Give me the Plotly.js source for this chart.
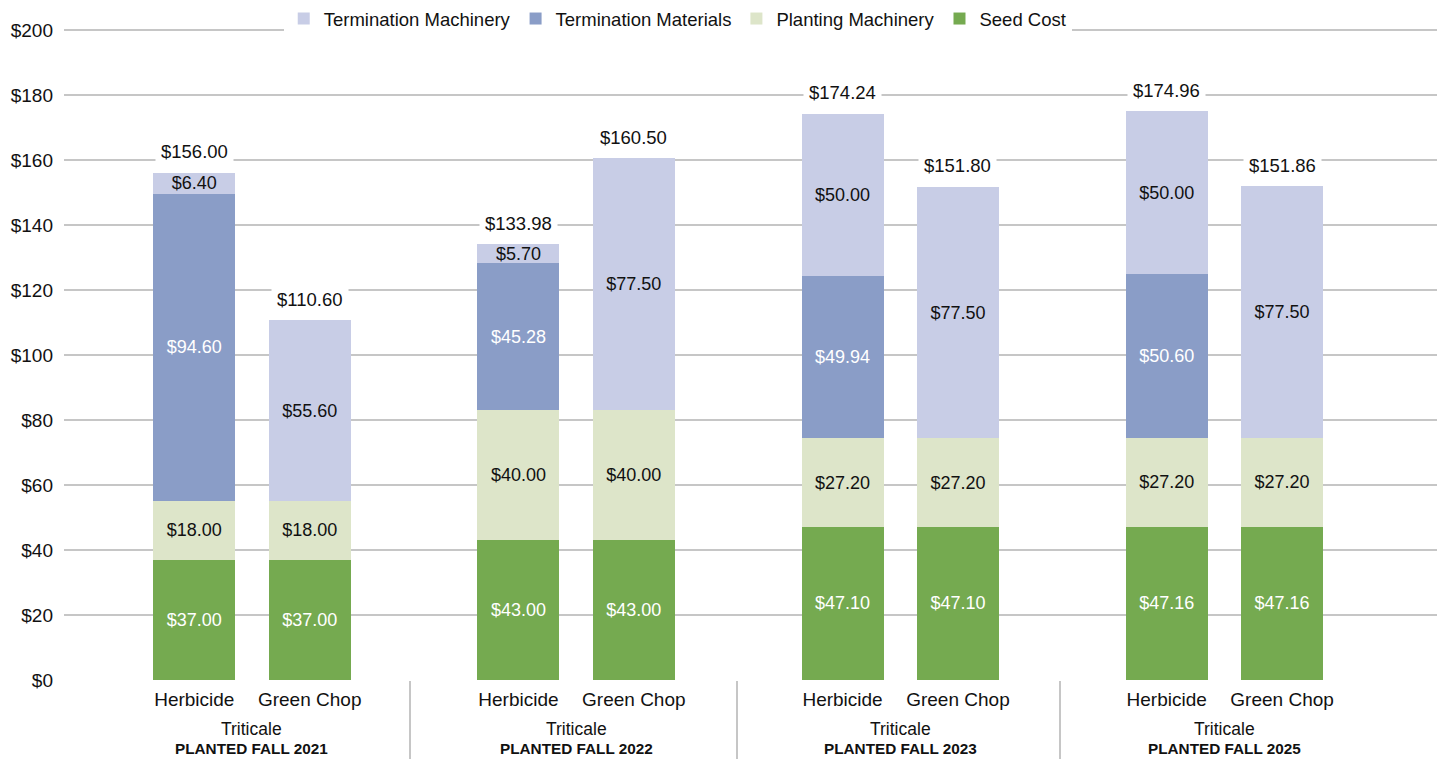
<!DOCTYPE html>
<html>
<head>
<meta charset="utf-8">
<script src="https://cdn.plot.ly/plotly-3.0.1.min.js"></script>
<style>html,body{margin:0;padding:0;background:#fff;}#chart{width:1443px;height:759px;}</style>
</head>
<body>
<div id="chart"></div>
<script>
// ---- data ----
const groups = ['PLANTED FALL 2021', 'PLANTED FALL 2022', 'PLANTED FALL 2023', 'PLANTED FALL 2025'];
const crop = 'Triticale';
const methods = ['Herbicide', 'Green Chop'];
const seedCost = [37.00, 37.00, 43.00, 43.00, 47.10, 47.10, 47.16, 47.16];
const plantingMachinery = [18.00, 18.00, 40.00, 40.00, 27.20, 27.20, 27.20, 27.20];
const terminationMaterials = [94.60, null, 45.28, null, 49.94, null, 50.60, null];
const terminationMachinery = [6.40, 55.60, 5.70, 77.50, 50.00, 77.50, 50.00, 77.50];
const totals = [156.00, 110.60, 133.98, 160.50, 174.24, 151.80, 174.96, 151.86];
const yTicks = [0, 20, 40, 60, 80, 100, 120, 140, 160, 180, 200];

// ---- layout helpers ----
const FONT = '"Liberation Sans", Arial, Helvetica, sans-serif';
const PLOT_H = 655;
const offset = 0.178;   // half distance between the two bars of a group (group step = 1)
const barWidth = 0.253;
const xs = [], xLabels = [];
groups.forEach((g, gi) => {
  methods.forEach((m, mi) => {
    xs.push(gi + (mi === 0 ? -offset : offset));
    xLabels.push(m);
  });
});

function barTrace(name, values, color, textColor) {
  return {
    type: 'bar', name: name, x: xs, y: values, width: barWidth,
    marker: {color: color, line: {width: 0}},
    texttemplate: '$%{y:.2f}', textposition: 'inside', insidetextanchor: 'middle',
    textangle: 0,
    textfont: {family: FONT, size: 18, color: textColor},
    hoverinfo: 'skip'
  };
}

const traces = [
  barTrace('Seed Cost', seedCost, '#75AA50', '#ffffff'),
  barTrace('Planting Machinery', plantingMachinery, '#DDE5C9', '#111111'),
  barTrace('Termination Materials', terminationMaterials, '#8A9DC7', '#ffffff'),
  barTrace('Termination Machinery', terminationMachinery, '#C8CDE6', '#111111')
];

const annotations = [];
totals.forEach((t, i) => {
  annotations.push({
    x: xs[i], y: t, xref: 'x', yref: 'y', text: '$' + t.toFixed(2),
    showarrow: false, yanchor: 'middle', yshift: 21,
    bgcolor: '#ffffff', borderpad: 5,
    font: {family: FONT, size: 18.5, color: '#111111'}
  });
});
groups.forEach((g, gi) => {
  annotations.push({
    x: gi, xref: 'x', yref: 'paper', y: -49 / PLOT_H, yanchor: 'middle',
    text: crop, showarrow: false,
    font: {family: FONT, size: 17.5, color: '#111111'}
  });
  annotations.push({
    x: gi, xref: 'x', yref: 'paper', y: -69 / PLOT_H, yanchor: 'middle',
    text: '<b>' + g + '</b>', showarrow: false,
    font: {family: FONT, size: 15.3, color: '#111111'}
  });
});

const layout = {
  width: 1443, height: 759,
  margin: {l: 64, r: 6, t: 25, b: 79, pad: 0, autoexpand: false},
  paper_bgcolor: '#ffffff', plot_bgcolor: '#ffffff',
  barmode: 'stack',
  showlegend: true,
  legend: {
    orientation: 'h', x: 0.447, xanchor: 'center', xref: 'paper',
    y: 1 + 6 / PLOT_H, yanchor: 'middle', yref: 'paper',
    traceorder: 'reversed', bgcolor: '#ffffff',
    font: {family: FONT, size: 18.5, color: '#111111'},
    itemclick: false, itemdoubleclick: false
  },
  uniformtext: {mode: 'show', minsize: 18},
  xaxis: {
    type: 'linear', range: [-0.58, 3.656],
    tickmode: 'array', tickvals: xs, ticktext: xLabels,
    ticks: '', showgrid: false, zeroline: false, showline: false,
    tickfont: {family: FONT, size: 19, color: '#111111'},
    ticklabelstandoff: 6,
    minor: {tickmode: 'array', tickvals: [0.488, 1.497, 2.494], ticks: 'outside', ticklen: 80,
            tickwidth: 2, tickcolor: '#c6c6c6', showgrid: false},
    fixedrange: true
  },
  yaxis: {
    range: [0, 201.5], tickmode: 'array', tickvals: yTicks,
    ticktext: yTicks.map(v => '$' + v),
    showgrid: true, gridcolor: '#c6c6c6', gridwidth: 2,
    zeroline: false, showline: false, ticks: '',
    tickfont: {family: FONT, size: 19, color: '#111111'},
    ticklabelstandoff: 10,
    fixedrange: true
  },
  annotations: annotations,
  font: {family: FONT, color: '#111111'}
};

Plotly.newPlot('chart', traces, layout, {displayModeBar: false, staticPlot: true});
</script>
</body>
</html>
